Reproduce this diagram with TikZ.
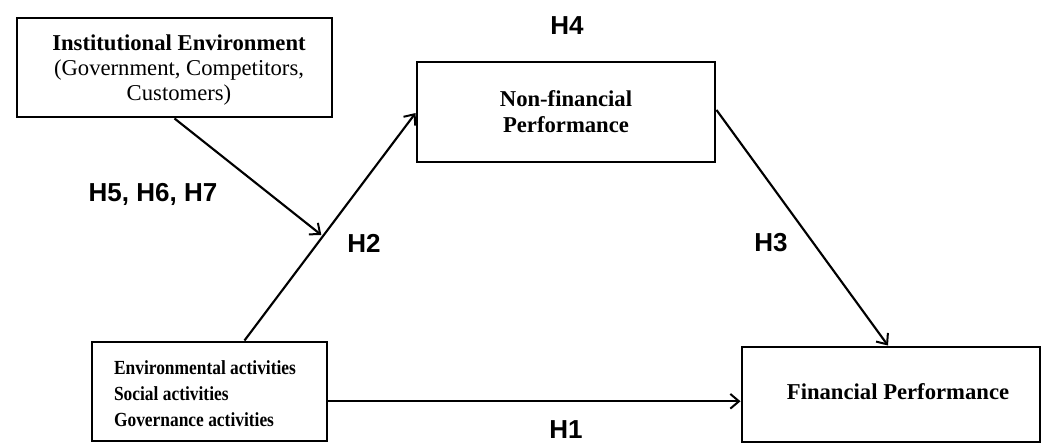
\documentclass[tikz,border=0pt]{standalone}
\usepackage{fontspec}
\setmainfont{Liberation Serif}
\setsansfont{Liberation Sans}
\newfontfamily\esgfont{Liberation Serif}[FakeStretch=0.87]
\usetikzlibrary{arrows.meta,calc}
\begin{document}
\begin{tikzpicture}[x=0.75pt,y=-0.75pt,
  box/.style={draw,line width=2.2pt,rectangle,inner sep=0pt,align=center},
  arr/.style={line width=1.6pt,-{Straight Barb[length=6.5pt,width=11pt,line width=1.5pt]}},
  hlab/.style={font=\sffamily\bfseries\fontsize{19.5}{22}\selectfont,inner sep=0pt}]
\useasboundingbox (0,0) rectangle (1043,444);
\node[box,minimum width=315*0.75pt,minimum height=99*0.75pt] (inst) at (174.5,67.5) {};
\node[align=center,font=\fontsize{17}{19}\selectfont] (insttext) at (179,70) {\textbf{Institutional Environment}\\(Government, Competitors,\\Customers)};
\node[box,minimum width=298*0.75pt,minimum height=100*0.75pt,font=\bfseries\fontsize{17}{19.5}\selectfont] (nf) at (566,112) {Non-financial\\Performance};
\node[box,minimum width=235*0.75pt,minimum height=99*0.75pt] (esg) at (209.5,391.5) {};
\node[align=left,font=\esgfont\bfseries\fontsize{15}{19.5}\selectfont] (esgtext) at (205,394) {Environmental activities\\Social activities\\Governance activities};
\node[box,minimum width=298*0.75pt,minimum height=95*0.75pt] (fp) at (891,394.5) {};
\node[font=\bfseries\fontsize{17}{19}\selectfont] (fptext) at (898,392) {Financial Performance};
% connectors
\coordinate (a1) at ($(esg.north west)!0.647!(esg.north east)$);
\coordinate (a2) at ($(nf.north west)!0.51!(nf.south west)$);
\draw[arr] (a1) -- (a2);
\coordinate (b1) at ($(nf.north east)!0.48!(nf.south east)$);
\coordinate (b2) at ($(fp.north west)!0.49!(fp.north east)$);
\draw[arr] (b1) -- (b2);
\coordinate (c1) at ($(esg.north east)!0.596!(esg.south east)$);
\draw[arr] (c1) -- (c1 -| fp.west);
\coordinate (m) at ($(a1)!0.4585!(a2)$);
\draw[arr,shorten >=1.5pt] (inst.south) -- (m);
% labels
\node[hlab] (h4) at (567,26) {H4};
\node[hlab] (h567) at (153,194) {H5, H6, H7};
\node[hlab] (h2) at (364,243) {H2};
\node[hlab] (h3) at (771,243) {H3};
\node[hlab] (h1) at (566,430) {H1};
\end{tikzpicture}
\end{document}
